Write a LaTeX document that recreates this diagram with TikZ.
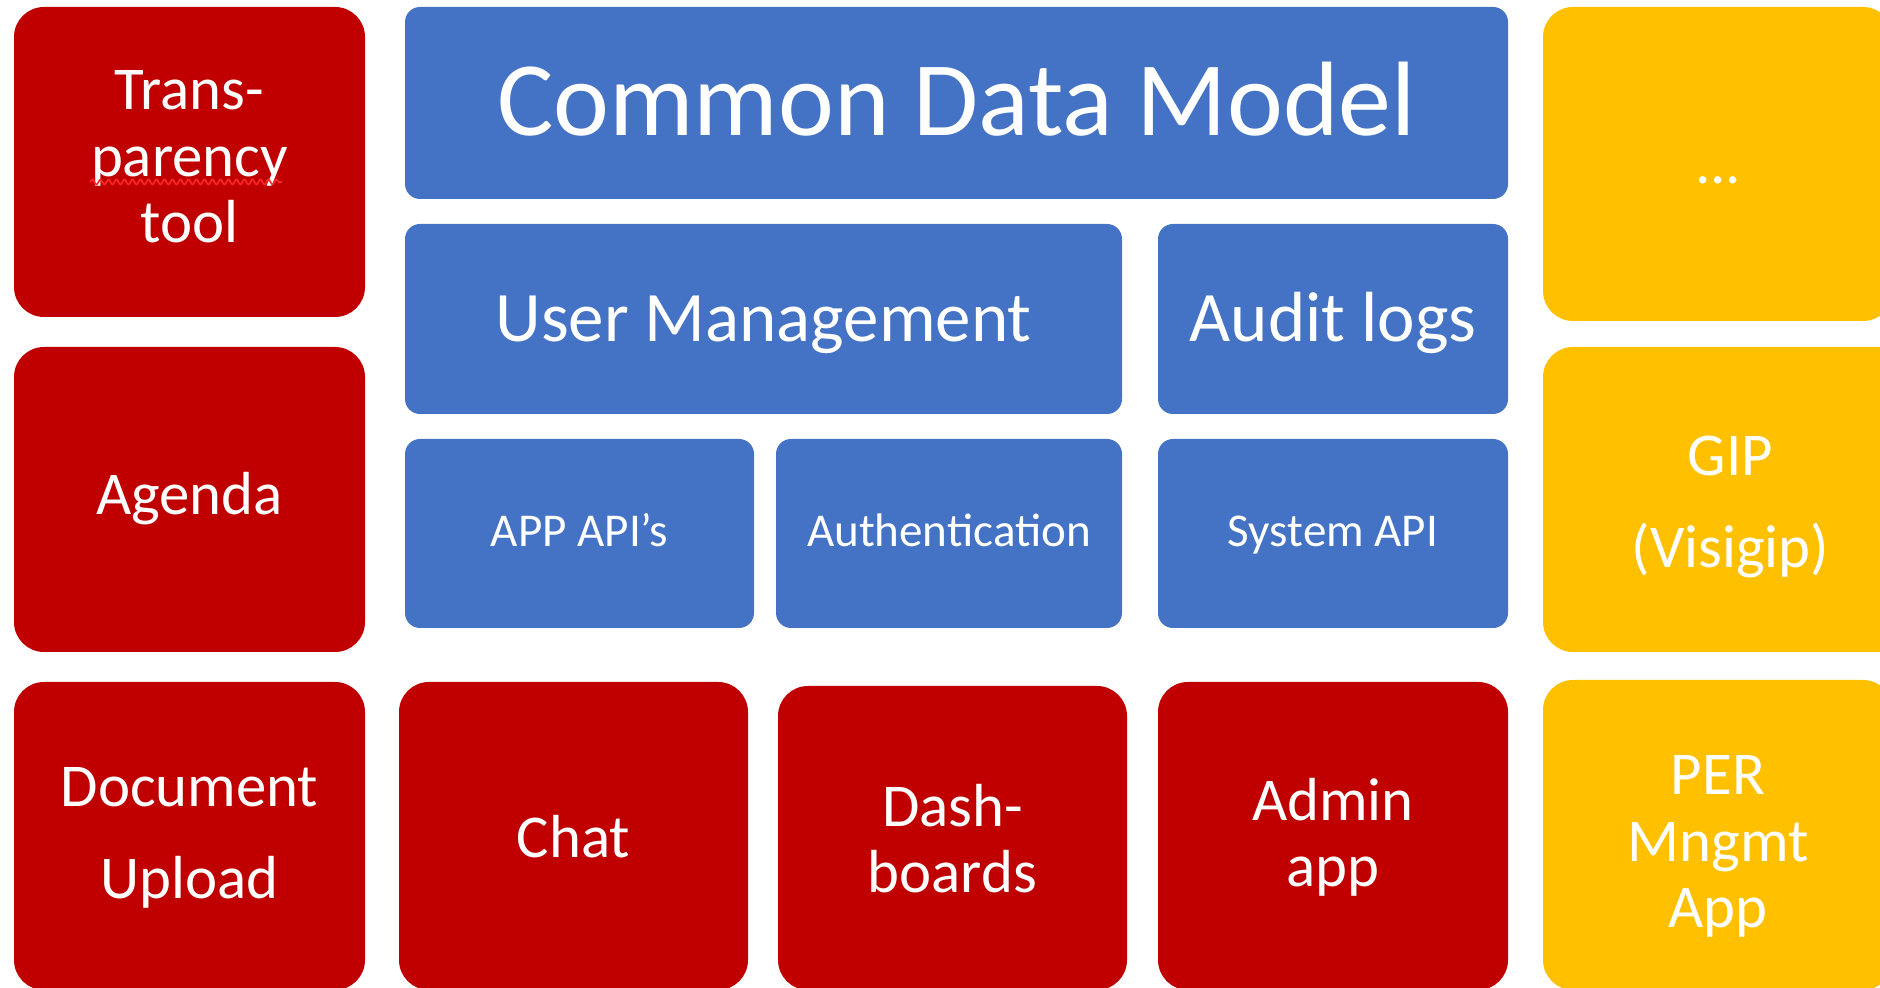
\documentclass[tikz,border=0pt]{standalone}
\usepackage{fontspec}
\setmainfont{Carlito}
\usetikzlibrary{decorations.pathmorphing}
\definecolor{appred}{HTML}{C00000}
\definecolor{appblue}{HTML}{4472C4}
\definecolor{appyellow}{HTML}{FFC000}

\begin{document}
\begin{tikzpicture}[
        tile/.style={inner sep=0pt, text=white, align=center, text height=1cm},
        redtile/.style={tile, fill=appred, rounded corners=3mm, font=\fontsize{17.3}{19}\selectfont},
        yellowtile/.style={tile, fill=appyellow, rounded corners=3mm, font=\fontsize{17.3}{19}\selectfont},
        bluetile/.style={tile, fill=appblue, rounded corners=1.5mm},
        wide/.style={font=\fontsize{17.3}{26.2}\selectfont}
    ]
            \clip (0,0) rectangle (18.8,9.88);
            % left column
            \node[redtile, text height=2.3cm, text depth=0.68cm, minimum width=3.51cm, minimum height=3.10cm] (trans) at (1.895,8.26) {Trans-\\parency\\tool};
            \node[redtile, text depth=0.69cm, minimum width=3.51cm, minimum height=3.05cm] (agenda) at (1.895,4.885) {Agenda};
            \node[redtile, wide, text height=2cm, text depth=0.74cm, minimum width=3.51cm, minimum height=3.08cm] (docup) at (1.895,1.52) {Document\\Upload};
            \draw[decorate, decoration={snake, amplitude=0.25mm, segment length=0.8mm}, red!85!white, line width=0.45pt] (0.90,8.06) -- (2.82,8.06);
            % platform
            \node[bluetile, text depth=0.34cm, font=\fontsize{30.1}{32}\selectfont, minimum width=11.03cm, minimum height=1.92cm] (cdm) at (9.565,8.85) {Common Data Model};
            \node[bluetile, text depth=0.54cm, font=\fontsize{20.2}{22}\selectfont, minimum width=7.17cm, minimum height=1.90cm] (users) at (7.635,6.69) {User Management};
            \node[bluetile, text depth=0.54cm, font=\fontsize{20.2}{22}\selectfont, minimum width=3.50cm, minimum height=1.90cm] (audit) at (13.33,6.69) {Audit logs};
            \foreach \name/\x/\w/\txt in {appapi/5.795/3.49/APP API’s, auth/9.49/3.46/Authentication, sysapi/13.33/3.50/System API}{
                \node[bluetile, text depth=0.73cm, font=\fontsize{13.4}{15}\selectfont, minimum width=\w cm, minimum height=1.89cm] (\name) at (\x,4.545) {\txt};
            }
            % apps
            \node[redtile, text depth=0.56cm, minimum width=3.49cm, minimum height=3.08cm] (chat) at (5.735,1.52) {Chat};
            \node[redtile, text height=2cm, text depth=0.90cm, minimum width=3.49cm, minimum height=3.04cm] (dash) at (9.525,1.50) {Dash-\\boards};
            \node[redtile, text height=2cm, text depth=0.98cm, minimum width=3.50cm, minimum height=3.08cm] (admin) at (13.33,1.52) {Admin\\app};
            % right column
            \node[yellowtile, text depth=0.6cm, minimum width=3.50cm, minimum height=3.14cm] (more) at (17.18,8.24) {...};
            \node[yellowtile, wide, text height=2cm, text depth=0.63cm, minimum width=3.75cm, minimum height=3.05cm] (gip) at (17.305,4.885) {GIP\\(Visigip)};
            \node[yellowtile, text height=2.4cm, text depth=0.54cm, minimum width=3.50cm, minimum height=3.10cm] (per) at (17.18,1.53) {PER\\Mngmt\\App};
\end{tikzpicture}
\end{document}
